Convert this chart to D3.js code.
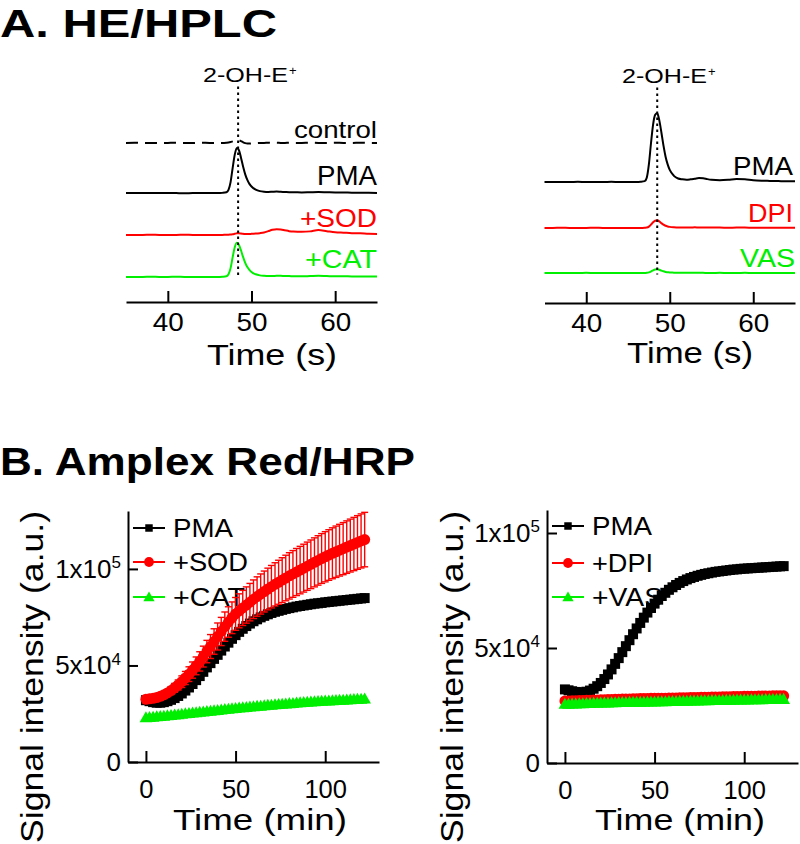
<!DOCTYPE html>
<html><head><meta charset="utf-8">
<script src="https://cdn.jsdelivr.net/npm/d3@7"></script>
<style>
body{margin:0;background:#fff}
svg{display:block}
text{font-family:"Liberation Sans",Arial,Helvetica,sans-serif}
</style></head><body>
<svg id="c" width="800" height="844"></svg>
<script>
// ---------------- DATA ----------------
// HPLC chromatograms (time in s, signal in arbitrary units)
const hplcTime = [35,36,37,38,39,40,41,42,43,44,45,46,46.5,47,47.25,47.5,47.75,48,48.25,48.5,48.75,49,49.25,49.5,49.75,50,50.5,51,51.5,52,52.5,53,53.5,54,54.5,55,56,57,58,59,60,61,62,63,64,65];
const peakTimeLeft = 48.4, peakTimeRight = 48.5;
const peakLabel = "2-OH-E", peakSup = "+";

const leftNames = ["control","PMA","+SOD","+CAT"];
const leftOffsets = [7.23,4.95,3.05,1.14];
const hplcControl = [0,0.01,0,0,-0.01,0,0.01,0,0,0.01,0,0, 0,0.01, 0.02,0.04,0.07,0.1,0.13,0.12,0.08,0.03,-0.01,-0.03,-0.03,-0.02, -0.01,0,0,0.01,0,0.01,0,0,0.01,0, 0,0.01,0,0,0.01,0,0,0.01,0,0];
const hplcPMA = [0,0,0.01,0,0,0.01,0,-0.01,0,0,0.01,0, 0.01,0.04, 0.15,0.5,1.15,1.75,2.05,1.95,1.6,1.2,0.85,0.6,0.42,0.3, 0.16,0.09,0.06,0.05,0.06,0.07,0.06,0.05,0.04,0.04, 0.03,0.04,0.05,0.04,0.03,0.03,0.02,0.02,0.02,0.01];
const hplcSOD = [0,0,0,0.01,0,0,0,0.01,0,0,0,0, 0,0.01, 0.01,0.02,0.03,0.05,0.07,0.07,0.06,0.05,0.04,0.04,0.04,0.05, 0.06,0.08,0.11,0.17,0.23,0.26,0.25,0.21,0.17,0.15, 0.14,0.16,0.22,0.17,0.12,0.1,0.08,0.07,0.05,0.04];
const hplcCAT = [0,0,0,0.01,0,0,0.01,0,0,0,0,0, 0.01,0.03, 0.12,0.4,0.9,1.35,1.55,1.45,1.2,0.9,0.64,0.45,0.32,0.22, 0.12,0.07,0.05,0.04,0.04,0.05,0.05,0.04,0.04,0.03, 0.03,0.04,0.05,0.04,0.03,0.03,0.02,0.02,0.02,0.02];

const rightNames = ["PMA","DPI","VAS"];
const rightOffsets = [5.5,3.41,1.36];
const hplcPMA2 = [0,0,0,0,0.01,0,0,0,0.01,0,0,0, 0.01,0.04, 0.2,0.8,1.75,2.6,3.05,3.12,2.8,2.25,1.65,1.15,0.8,0.55, 0.28,0.16,0.12,0.1,0.12,0.15,0.18,0.17,0.13,0.1, 0.08,0.1,0.14,0.12,0.08,0.06,0.05,0.04,0.03,0.03];
const hplcDPI = [0,0,0.01,0,0,0,0.01,0,0,0,0,0, 0,0.01, 0.02,0.06,0.15,0.26,0.33,0.35,0.3,0.22,0.15,0.1,0.07,0.05, 0.03,0.02,0.02,0.02,0.02,0.03,0.02,0.02,0.02,0.02, 0.02,0.01,0.02,0.02,0.01,0.01,0.01,0.01,0.01,0.01];
const hplcVAS = [0,0,0,0,0,0.01,0,0,0,0,0,0, 0,0, 0.01,0.03,0.07,0.12,0.16,0.17,0.15,0.11,0.08,0.05,0.04,0.03, 0.02,0.01,0.01,0.01,0.01,0.01,0.01,0.01,0,0, 0.01,0,0,0.01,0,0,0,0,0,0];
const hplcTicks = [40,50,60];

// Amplex Red/HRP kinetics (time in min, signal in thousands a.u.)
const timeB = [0,2,4,6,8,10,12,14,16,18,20,22,24,26,28,30,32,34,36,38,40,42,44,46,48,50,52,54,56,58,60,62,64,66,68,70,72,74,76,78,80,82,84,86,88,90,92,94,96,98,100,102,104,106,108,110,112,114,116,118,120,122];
const ampPMA = [32.0,31.5,31.0,30.7,30.7,31.0,31.5,32.2,33.1,34.2, 35.5,37.0,38.6,40.4,42.4,44.5,46.7,49.0,51.2,53.4, 55.5,57.7,59.8,61.8,63.8,65.7,67.4,69.0,70.4,71.7, 72.9,73.9,74.9,75.7,76.5,77.2,77.8,78.3,78.8,79.3, 79.7,80.1,80.5,80.8,81.1,81.4,81.7,82.0,82.2,82.4, 82.7,82.9,83.1,83.3,83.5,83.7,83.9,84.1,84.3,84.5, 84.7,84.9];
const ampSOD = [32.5,32.7,33.0,33.4,34.0,34.8,35.8,37.0,38.4,39.9, 41.6,43.5,45.5,47.6,49.8,52.1,54.6,57.2,59.8,62.4, 65.0,67.6,70.1,72.5,74.7,76.7,78.3,79.8,81.3,82.8, 84.3,85.7,87.0,88.3,89.6,90.8,92.0,93.1,94.2,95.3, 96.4,97.4,98.4,99.4,100.4,101.4,102.4,103.4,104.4,105.4, 106.3,107.2,108.1,108.9,109.7,110.5,111.3,112.1,112.9,113.7, 114.5,115.2];
const ampSODerr = [1.0,1.0,1.1,1.2,1.3,1.5,1.7,2.0,2.3,2.6, 3.0,3.4,3.8,4.2,4.6,5.0,5.4,5.8,6.2,6.6, 7.0,7.3,7.6,7.9,8.2,8.5,8.8,9.1,9.4,9.7, 10.0,10.2,10.4,10.6,10.8,11.0,11.2,11.4,11.6,11.8, 12.0,12.1,12.2,12.3,12.4,12.5,12.6,12.7,12.8,12.9, 13.0,13.1,13.2,13.3,13.4,13.5,13.6,13.7,13.8,13.9, 14.0,14.1];
const ampCAT = [22.5,22.6,22.8,23.0,23.1,23.3,23.5,23.7,23.9,24.1, 24.3,24.5,24.7,24.9,25.1,25.3,25.5,25.7,25.9,26.1, 26.3,26.5,26.7,26.9,27.1,27.3,27.5,27.7,27.8,28.0, 28.2,28.4,28.5,28.7,28.9,29.0,29.2,29.3,29.5,29.6, 29.8,29.9,30.1,30.2,30.4,30.5,30.6,30.8,30.9,31.0, 31.1,31.2,31.3,31.4,31.5,31.6,31.7,31.8,31.9,32.0, 32.1,32.2];
const ampPMA2 = [32.0,31.6,31.2,30.9,30.7,30.7,31.0,31.5,32.3,33.4, 34.8,36.5,38.5,40.7,43.1,45.6,48.2,50.8,53.4,56.0, 58.5,60.9,63.2,65.4,67.4,69.3,71.0,72.6,74.0,75.3, 76.4,77.4,78.3,79.1,79.8,80.4,80.9,81.4,81.8,82.2, 82.5,82.8,83.1,83.3,83.5,83.7,83.9,84.1,84.2,84.4, 84.5,84.6,84.7,84.8,84.9,85.0,85.1,85.2,85.3,85.4, 85.5,85.6];
const ampDPI = [27.0,27.0,27.1,27.1,27.2,27.2,27.3,27.3,27.4,27.4, 27.5,27.5,27.6,27.6,27.7,27.7,27.8,27.8,27.8,27.9, 27.9,28.0,28.0,28.0,28.1,28.1,28.2,28.2,28.2,28.3, 28.3,28.3,28.4,28.4,28.4,28.5,28.5,28.5,28.6,28.6, 28.6,28.7,28.7,28.7,28.8,28.8,28.8,28.9,28.9,28.9, 29.0,29.0,29.0,29.0,29.1,29.1,29.1,29.1,29.2,29.2, 29.2,29.2];
const ampVAS = [25.2,25.2,25.3,25.3,25.4,25.4,25.5,25.5,25.6,25.6, 25.7,25.7,25.7,25.8,25.8,25.9,25.9,25.9,26.0,26.0, 26.1,26.1,26.1,26.2,26.2,26.2,26.3,26.3,26.3,26.4, 26.4,26.4,26.5,26.5,26.5,26.6,26.6,26.6,26.7,26.7, 26.7,26.8,26.8,26.8,26.8,26.9,26.9,26.9,27.0,27.0, 27.0,27.0,27.1,27.1,27.1,27.1,27.2,27.2,27.2,27.2, 27.3,27.3];
const ampXTicks = [0,50,100];
const ampYTicks = [0,50,100];
const legendLeft = ["PMA","+SOD","+CAT"];
const legendRight = ["PMA","+DPI","+VAS"];

// ---------------- STYLE ----------------
const BLACK = "#000000", RED = "#ff0000", GREEN = "#00ee00";
const svg = d3.select("#c");

function txt(g, o) {
  const t = g.append("text")
    .attr("x", o.x).attr("y", o.y)
    .attr("text-anchor", o.anchor || "start")
    .attr("font-size", o.size)
    .attr("font-weight", o.weight || "normal")
    .attr("fill", o.color || BLACK)
    .text(o.text);
  if (o.len) t.attr("textLength", o.len).attr("lengthAdjust", "spacingAndGlyphs");
  if (o.rot) t.attr("transform", `rotate(${o.rot},${o.x},${o.y})`);
  return t;
}

// Titles
txt(svg, {x:0, y:37, text:"A. HE/HPLC", size:38, weight:"bold", len:277});
txt(svg, {x:0, y:475, text:"B. Amplex Red/HRP", size:38, weight:"bold", len:415});

// ---------------- PANEL A ----------------
function drawHPLC(cfg) {
  const g = svg.append("g");
  const x = d3.scaleLinear().domain([35,65]).range([cfg.x0, cfg.x1]);
  const y = d3.scaleLinear().domain([0,10]).range([cfg.axisY, cfg.axisY - 220]);
  const line = d3.line().x(d => x(d[0])).y(d => y(d[1])).curve(d3.curveMonotoneX);

  cfg.traces.forEach((vals, i) => {
    const data = hplcTime.map((t, j) => [t, cfg.offsets[i] + vals[j]]);
    g.append("path").attr("d", line(data))
      .attr("fill", "none").attr("stroke", cfg.colors[i])
      .attr("stroke-width", 2)
      .attr("stroke-dasharray", cfg.dashed[i] ? "12,7" : null);
  });

  g.append("line")
    .attr("x1", x(cfg.peak)).attr("x2", x(cfg.peak))
    .attr("y1", y(9.8)).attr("y2", y(cfg.dotBottom))
    .attr("stroke", BLACK).attr("stroke-width", 2).attr("stroke-dasharray", "2.5,3.5");

  const ax = g.append("g").attr("transform", `translate(0,${cfg.axisY})`)
    .call(d3.axisBottom(x).tickValues(hplcTicks).tickSizeInner(-11).tickSizeOuter(0).tickPadding(11));
  ax.attr("font-family", null);
  ax.select(".domain").attr("stroke-width", 2);
  ax.selectAll(".tick line").attr("stroke-width", 2);
  ax.selectAll(".tick text").attr("font-size", 26)
    .attr("textLength", d => String(d).length * 15.5).attr("lengthAdjust", "spacingAndGlyphs");

  cfg.labels.forEach(l => txt(g, l));
  txt(g, {x: cfg.peakLabelX, y: cfg.peakLabelY, text: peakLabel, size: 20, len: 85});
  txt(g, {x: cfg.peakLabelX + 86, y: cfg.peakLabelY - 7, text: peakSup, size: 13});
  txt(g, {x: cfg.timeX, y: cfg.timeY, text: "Time (s)", size: 29, anchor: "middle", len: cfg.timeLen});
}

drawHPLC({
  x0: 126, x1: 377, axisY: 302,
  traces: [hplcControl, hplcPMA, hplcSOD, hplcCAT],
  offsets: leftOffsets,
  colors: [BLACK, BLACK, RED, GREEN],
  dashed: [true, false, false, false],
  peak: peakTimeLeft, dotBottom: 1.2,
  peakLabelX: 203, peakLabelY: 82,
  timeX: 272, timeY: 365, timeLen: 130,
  labels: [
    {x:377, y:138, text:leftNames[0], size:24, anchor:"end", len:83},
    {x:377, y:185, text:leftNames[1], size:27, anchor:"end", len:60},
    {x:377, y:227, text:leftNames[2], size:25, anchor:"end", len:77, color:RED},
    {x:377, y:268, text:leftNames[3], size:25, anchor:"end", len:72, color:GREEN}
  ]
});

drawHPLC({
  x0: 544.5, x1: 795, axisY: 303,
  traces: [hplcPMA2, hplcDPI, hplcVAS],
  offsets: rightOffsets,
  colors: [BLACK, RED, GREEN],
  dashed: [false, false, false],
  peak: peakTimeRight, dotBottom: 1.3,
  peakLabelX: 622, peakLabelY: 83,
  timeX: 690, timeY: 363, timeLen: 126,
  labels: [
    {x:793, y:175, text:rightNames[0], size:26, anchor:"end", len:60},
    {x:793, y:222, text:rightNames[1], size:25, anchor:"end", len:45, color:RED},
    {x:795, y:267, text:rightNames[2], size:25, anchor:"end", len:55, color:GREEN}
  ]
});

// ---------------- PANEL B ----------------
const dataSyms = [
  d3.symbol().type(d3.symbolSquare).size(100),
  d3.symbol().type(d3.symbolCircle).size(95),
  d3.symbol().type(d3.symbolTriangle).size(70)
];
const legSyms = [
  d3.symbol().type(d3.symbolSquare).size(56),
  d3.symbol().type(d3.symbolCircle).size(75),
  d3.symbol().type(d3.symbolTriangle).size(55)
];

function drawAmplex(cfg) {
  const g = svg.append("g");
  const x = d3.scaleLinear().domain([-10,130]).range([cfg.x0, cfg.x1]);
  const y = d3.scaleLinear().domain([0, cfg.yMax]).range([cfg.axisY, cfg.yTop]);

  const ax = g.append("g").attr("transform", `translate(0,${cfg.axisY})`)
    .call(d3.axisBottom(x).tickValues(ampXTicks).tickSizeInner(-11).tickSizeOuter(0).tickPadding(18));
  ax.attr("font-family", null);
  ax.select(".domain").attr("stroke-width", 2);
  ax.selectAll(".tick line").attr("stroke-width", 2);
  ax.selectAll(".tick text").attr("font-size", 26)
    .attr("textLength", d => String(d).length * 14.2).attr("lengthAdjust", "spacingAndGlyphs");

  const ay = g.append("g").attr("transform", `translate(${cfg.x0},0)`)
    .call(d3.axisLeft(y).tickValues(ampYTicks).tickSizeInner(-10).tickSizeOuter(0).tickPadding(7));
  ay.attr("font-family", null);
  ay.select(".domain").attr("stroke-width", 2);
  ay.selectAll(".tick line").attr("stroke-width", 2);
  ay.selectAll(".tick text").attr("font-size", 26).each(function(d) {
    const t = d3.select(this);
    t.text(null);
    if (d === 0) { t.text("0"); return; }
    const v = d * 1000;
    const e = Math.floor(Math.log10(v));
    const m = Math.round(v / Math.pow(10, e));
    t.append("tspan").text(m + "x10");
    t.append("tspan").attr("font-size", 17).attr("dy", "-0.55em").text(e);
  });

  txt(g, {x: cfg.timeX, y: 830, text: "Time (min)", size: 30, anchor: "middle", len: cfg.timeLen});
  txt(g, {x: cfg.ylabX, y: 677, text: "Signal intensity (a.u.)", size: 31, anchor: "middle", len: 332, rot: -90});

  const cols = [BLACK, RED, GREEN];
  cfg.legend.forEach((name, i) => {
    const cy = cfg.legY[i];
    g.append("line").attr("x1", cfg.legX).attr("x2", cfg.legX + 32)
      .attr("y1", cy).attr("y2", cy).attr("stroke", cols[i]).attr("stroke-width", 2);
    g.append("path").attr("d", legSyms[i]()).attr("fill", cols[i])
      .attr("transform", `translate(${cfg.legX + 16},${cy + (i === 2 ? 1 : 0)})`);
    txt(g, {x: cfg.legX + 40, y: cy + 9, text: name, size: 26, len: cfg.legLen[i]});
  });

  const line = d3.line().x((d, i) => x(timeB[i])).y(d => y(d));
  cfg.series.forEach((vals, k) => {
    const col = cols[k];
    g.append("path").attr("d", line(vals)).attr("fill", "none").attr("stroke", col).attr("stroke-width", 1.5);
    if (cfg.errs[k]) {
      const err = cfg.errs[k];
      const eg = g.append("g").attr("stroke", col).attr("stroke-width", 1.4);
      vals.forEach((v, i) => {
        const cx = x(timeB[i]);
        eg.append("line").attr("x1", cx).attr("x2", cx).attr("y1", y(v - err[i])).attr("y2", y(v + err[i]));
        eg.append("line").attr("x1", cx - 3.5).attr("x2", cx + 3.5).attr("y1", y(v + err[i])).attr("y2", y(v + err[i]));
        eg.append("line").attr("x1", cx - 3.5).attr("x2", cx + 3.5).attr("y1", y(v - err[i])).attr("y2", y(v - err[i]));
      });
    }
    g.append("g").selectAll("path").data(vals).join("path")
      .attr("d", dataSyms[k]()).attr("fill", col)
      .attr("transform", (d, i) => `translate(${x(timeB[i])},${y(d)})`);
  });
}

drawAmplex({
  x0: 128, x1: 379, axisY: 762, yTop: 511, yMax: 130,
  timeX: 260, timeLen: 174, ylabX: 43,
  legX: 133, legY: [528, 562, 597], legLen: [60, 75, 72],
  legend: legendLeft,
  series: [ampPMA, ampSOD, ampCAT],
  errs: [null, ampSODerr, null]
});

drawAmplex({
  x0: 547, x1: 798, axisY: 763, yTop: 510, yMax: 110,
  timeX: 680, timeLen: 170, ylabX: 463,
  legX: 552, legY: [526, 563, 597], legLen: [60, 61, 71],
  legend: legendRight,
  series: [ampPMA2, ampDPI, ampVAS],
  errs: [null, null, null]
});
</script>
</body></html>
